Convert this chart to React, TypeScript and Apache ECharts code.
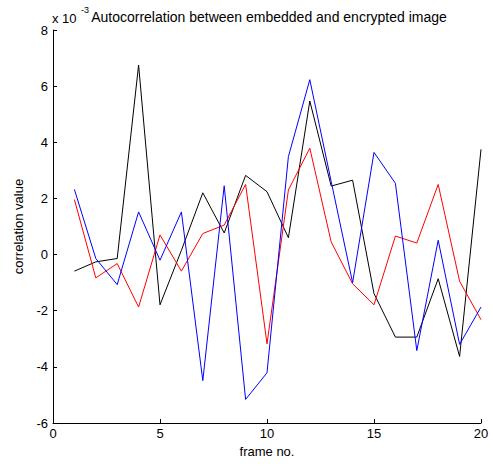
import React, { useEffect, useRef } from "react";
import * as echarts from "echarts";

const frames = [1, 2, 3, 4, 5, 6, 7, 8, 9, 10, 11, 12, 13, 14, 15, 16, 17, 18, 19, 20];
const blackSeries = [-0.59, -0.26, -0.14, 6.75, -1.79, 0.15, 2.2, 0.77, 2.82, 2.24, 0.6, 5.47, 2.44, 2.65, -1.39, -2.94, -2.94, -0.86, -3.63, 3.75];
const redSeries = [1.96, -0.83, -0.32, -1.87, 0.7, -0.59, 0.75, 1.05, 2.5, -3.18, 2.3, 3.79, 0.45, -1.04, -1.79, 0.66, 0.41, 2.5, -0.95, -2.32];
const blueSeries = [2.32, -0.14, -1.07, 1.52, -0.2, 1.52, -4.49, 2.45, -5.16, -4.21, 3.49, 6.23, 2.6, -1.0, 3.64, 2.54, -3.42, 0.51, -3.2, -1.87];

const FONT = "'Liberation Sans', Arial, sans-serif";

export default function App() {
  const ref = useRef<HTMLDivElement>(null);
  useEffect(() => {
    const chart = echarts.init(ref.current!, undefined, { renderer: "svg" });
    const mk = (name: string, data: number[], color: string) => ({
      name,
      type: "line",
      data: frames.map((f, i) => [f, data[i]]),
      showSymbol: false,
      symbol: "none",
      lineStyle: { color, width: 1 },
      itemStyle: { color },
    });
    chart.setOption({
      animation: false,
      backgroundColor: "#ffffff",
      grid: { left: 53, right: 12, top: 30, bottom: 45, containLabel: false },
      title: {
        text: "Autocorrelation between embedded and encrypted image",
        left: 264,
        textAlign: "center",
        top: 5,
        textStyle: { fontFamily: FONT, fontSize: 14, fontWeight: "normal", color: "#000" },
      },
      graphic: [
        {
          type: "text",
          left: 52,
          top: 12,
          style: { text: "x 10", font: `13px ${FONT}`, fill: "#000" },
        },
        {
          type: "text",
          left: 81,
          top: 5,
          style: { text: "-3", font: `9px ${FONT}`, fill: "#000" },
        },
      ],
      xAxis: {
        type: "value",
        min: 0,
        max: 20,
        interval: 5,
        name: "frame no.",
        nameLocation: "middle",
        nameGap: 21,
        nameTextStyle: { fontFamily: FONT, fontSize: 13, color: "#000" },
        axisLine: { show: true, onZero: false, lineStyle: { color: "#000", width: 1 } },
        axisTick: { show: true, inside: true, length: 4, lineStyle: { color: "#000" } },
        axisLabel: { fontFamily: FONT, fontSize: 13, color: "#000", margin: 4 },
        splitLine: { show: false },
      },
      yAxis: {
        type: "value",
        min: -6,
        max: 8,
        interval: 2,
        name: "correlation value",
        nameLocation: "middle",
        nameGap: 28,
        nameTextStyle: { fontFamily: FONT, fontSize: 13, color: "#000" },
        axisLine: { show: true, onZero: false, lineStyle: { color: "#000", width: 1 } },
        axisTick: { show: true, inside: true, length: 4, lineStyle: { color: "#000" } },
        axisLabel: { fontFamily: FONT, fontSize: 13, color: "#000", margin: 5 },
        splitLine: { show: false },
      },
      series: [
        mk("black", blackSeries, "#000000"),
        mk("red", redSeries, "#ff0000"),
        mk("blue", blueSeries, "#0000ff"),
      ],
    });
    return () => chart.dispose();
  }, []);
  return <div ref={ref} style={{ width: 493, height: 468, position: "absolute", left: 0, top: 0 }} />;
}
